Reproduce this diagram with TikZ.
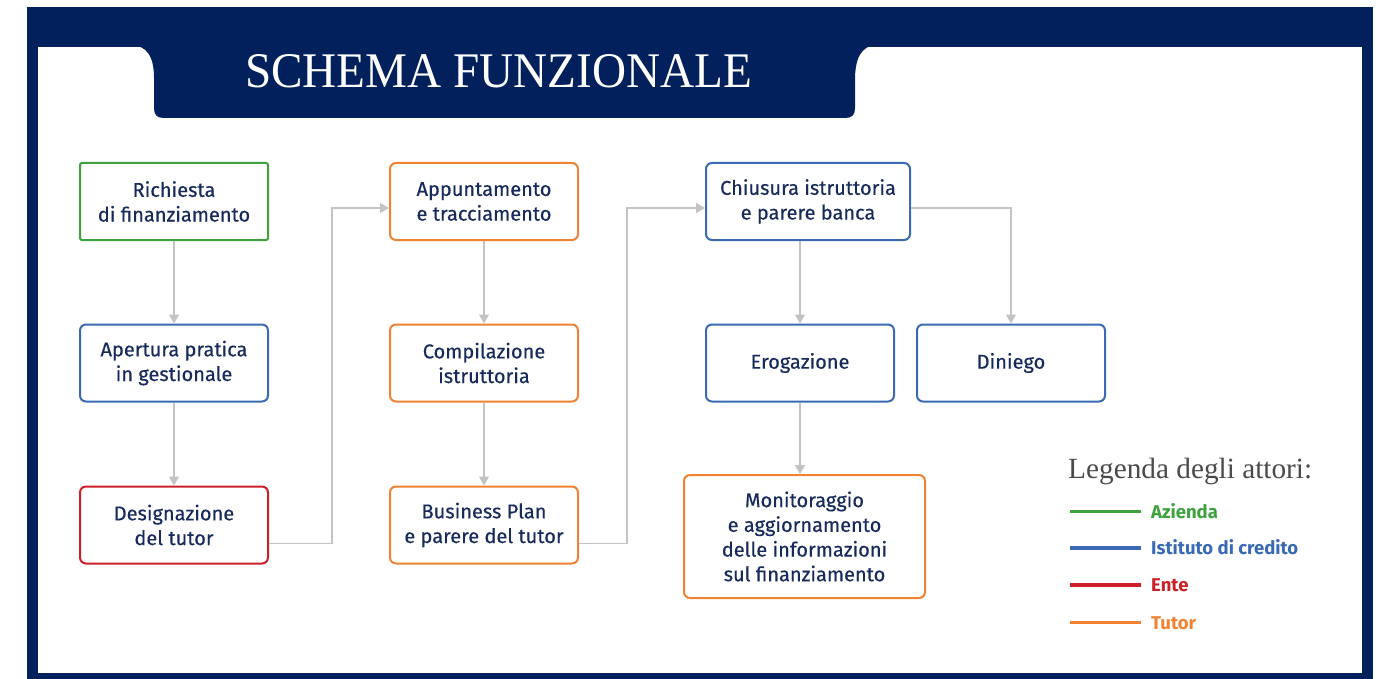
\documentclass[tikz,border=0pt]{standalone}
\usepackage{graphicx}
\usepackage{fontspec}
\setmainfont{Fira Sans}
\newfontfamily\boxfont[FakeBold=0.35]{Fira Sans}
\newfontfamily\serifttl{Liberation Serif}
\usetikzlibrary{arrows.meta,calc}
\definecolor{navy}{HTML}{02205B}
\definecolor{txtnavy}{HTML}{172A5C}
\definecolor{cgreen}{HTML}{3DA23D}
\definecolor{cblue}{HTML}{3A6AB4}
\definecolor{cred}{HTML}{CC1F27}
\definecolor{corange}{HTML}{F08232}
\definecolor{cgray}{HTML}{C3C3C3}
\definecolor{ltitle}{HTML}{4A4A4A}
\begin{document}
\begin{tikzpicture}[x=1pt,y=-1pt,
 stepbox/.style={draw,line width=2pt,rounded corners=6pt,fill=white,align=center,text=txtnavy,
   font=\boxfont\fontsize{20}{24.7}\selectfont,minimum width=188pt,minimum height=77pt,inner sep=0pt},
 conn/.style={draw=cgray,line width=1.5pt,-{Triangle[width=10pt,length=9pt]}},
 legline/.style={line width=3.5pt},
 leglabel/.style={anchor=base west,font=\fontsize{18.5}{20}\selectfont\bfseries,inner sep=0pt}]
\useasboundingbox (0,0) rectangle (1383,679);
\fill[white] (0,0) rectangle (1383,679);
% frame
\fill[navy] (27,7) rectangle (1373,679);
\fill[white] (38,47) rectangle (1362,673);
% title tab
\fill[navy] (130,45) .. controls (148,45) and (154,58) .. (154,78)
  -- (154,108) .. controls (154,115) and (157,118) .. (164,118)
  -- (845,118) .. controls (852,118) and (855,115) .. (855,108)
  -- (855,80) .. controls (855,60) and (860,45) .. (878,45) -- cycle;
\node[anchor=base,inner sep=0pt,text=white] (title) at (498.5,88)
  {\resizebox{507pt}{33pt}{\serifttl SCHEMA FUNZIONALE}};
% boxes
\node[stepbox,draw=cgreen,rounded corners=2pt] (n1) at (174,201.5) {Richiesta\\di finanziamento};
\node[stepbox,draw=cblue] (n2) at (174,363) {Apertura pratica\\in gestionale};
\node[stepbox,draw=cred] (n3) at (174,525) {Designazione\\del tutor};
\node[stepbox,draw=corange] (n4) at (484,201.5) {Appuntamento\\e tracciamento};
\node[stepbox,draw=corange] (n5) at (484,363) {Compilazione\\istruttoria};
\node[stepbox,draw=corange] (n6) at (484,525) {Business Plan\\e parere del tutor};
\node[stepbox,draw=cblue,minimum width=204pt] (n7) at (808,201.5) {Chiusura istruttoria\\e parere banca};
\node[stepbox,draw=cblue] (n8) at (800,363) {Erogazione};
\node[stepbox,draw=cblue] (n9) at (1011,363) {Diniego};
\node[stepbox,draw=corange,minimum width=241pt,minimum height=123pt] (n10) at (804.5,536.5)
  {Monitoraggio\\e aggiornamento\\delle informazioni\\sul finanziamento};
% connectors
\draw[conn] (n1) -- (n2);
\draw[conn] (n2) -- (n3);
\draw[conn] ($(n3.east)+(0,18.5)$) -- ++(63,0) |- ($(n4.west)+(0,6.5)$);
\draw[conn] (n4) -- (n5);
\draw[conn] (n5) -- (n6);
\draw[conn] ($(n6.east)+(0,18.5)$) -- ++(48,0) |- ($(n7.west)+(0,6.5)$);
\draw[conn] (n7.south -| n8) -- (n8);
\draw[conn] ($(n7.east)+(0,6.5)$) -| (n9);
\draw[conn] (n8.south) -- (n8.south |- n10.north);
% legend
\node[anchor=base west,inner sep=0pt,text=ltitle] (legt) at (1068,478)
  {\resizebox{244pt}{!}{\serifttl Legenda degli attori:}};
\draw[cgreen,legline] (1070,511.5) -- (1141,511.5);
\node[leglabel,text=cgreen] (lg1) at (1151,518) {Azienda};
\draw[cblue,legline] (1070,548) -- (1141,548);
\node[leglabel,text=cblue] (lg2) at (1151,554.5) {Istituto di credito};
\draw[cred,legline] (1070,585) -- (1141,585);
\node[leglabel,text=cred] (lg3) at (1151,591.5) {Ente};
\draw[corange,legline] (1070,622.5) -- (1141,622.5);
\node[leglabel,text=corange] (lg4) at (1151,629) {Tutor};
\end{tikzpicture}
\end{document}
